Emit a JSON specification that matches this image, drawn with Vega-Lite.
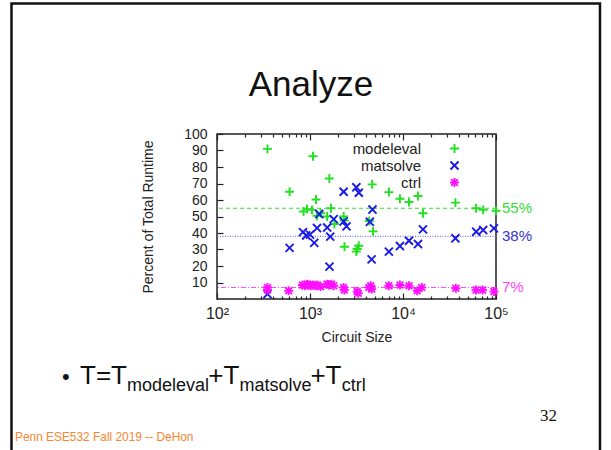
{
  "$schema": "https://vega.github.io/schema/vega-lite/v6.json",
  "width": 279,
  "height": 165,
  "autosize": {"type": "none"},
  "padding": {"left": 217, "top": 134, "right": 115, "bottom": 151},
  "background": "white",
  "config": {
    "view": {"stroke": "#222", "strokeWidth": 1.5},
    "font": "Liberation Sans",
    "axis": {"labelFont": "Liberation Sans", "titleFont": "Liberation Sans", "labelColor": "#222", "titleColor": "#222", "titleFontWeight": "normal", "grid": false, "domain": false, "tickColor": "#222", "tickWidth": 1.2},
    "legend": {"labelFont": "Liberation Sans"}
  },
  "resolve": {"axis": {"x": "independent", "y": "independent"}},
  "layer": [
    {
      "data": {"values": [{}]},
      "mark": {"type": "rect", "fill": null, "stroke": "#111", "strokeWidth": 2.5},
      "encoding": {
        "x": {"datum": 0.6169, "type": "quantitative", "scale": {"type": "log", "domain": [100, 100000], "nice": false},
          "axis": {"orient": "top", "labels": false, "title": null, "domain": false, "grid": false,
            "values": [100,200,300,400,500,600,700,800,900,1000,2000,3000,4000,5000,6000,7000,8000,9000,10000,20000,30000,40000,50000,60000,70000,80000,90000,100000],
            "tickSize": {"condition": {"test": "indexof([100,1000,10000,100000], datum.value) >= 0", "value": -6}, "value": -3}}},
        "x2": {"datum": 1312000},
        "y": {"datum": 179.1, "type": "quantitative", "axis": null},
        "y2": {"datum": -103.6}
      }
    },
    {
      "data": {"values": [{}]},
      "mark": {"type": "rule", "stroke": "#33dd33", "strokeDash": [4, 3], "strokeWidth": 1},
      "encoding": {"y": {"datum": 55, "type": "quantitative", "axis": null}}
    },
    {
      "data": {"values": [{}]},
      "mark": {"type": "rule", "stroke": "#5555ee", "strokeDash": [1, 1.5], "strokeWidth": 1},
      "encoding": {"y": {"datum": 38, "type": "quantitative", "axis": null}}
    },
    {
      "data": {"values": [{}]},
      "mark": {"type": "rule", "stroke": "#ff44ff", "strokeDash": [5, 2, 1, 2], "strokeWidth": 1},
      "encoding": {"y": {"datum": 7, "type": "quantitative", "axis": null}}
    },
    {
      "data": {"values": [
        {"size": 349, "pct": 91, "series": "modeleval"},
        {"size": 603, "pct": 65, "series": "modeleval"},
        {"size": 852, "pct": 53, "series": "modeleval"},
        {"size": 929, "pct": 54.5, "series": "modeleval"},
        {"size": 1050, "pct": 54, "series": "modeleval"},
        {"size": 1077, "pct": 86.5, "series": "modeleval"},
        {"size": 1161, "pct": 60.3, "series": "modeleval"},
        {"size": 1190, "pct": 50.5, "series": "modeleval"},
        {"size": 1300, "pct": 52, "series": "modeleval"},
        {"size": 1530, "pct": 50, "series": "modeleval"},
        {"size": 1614, "pct": 73, "series": "modeleval"},
        {"size": 1680, "pct": 55, "series": "modeleval"},
        {"size": 1830, "pct": 45.5, "series": "modeleval"},
        {"size": 2300, "pct": 50, "series": "modeleval"},
        {"size": 2340, "pct": 47.5, "series": "modeleval"},
        {"size": 2350, "pct": 31.7, "series": "modeleval"},
        {"size": 3150, "pct": 28.7, "series": "modeleval"},
        {"size": 3210, "pct": 30.3, "series": "modeleval"},
        {"size": 3340, "pct": 32.3, "series": "modeleval"},
        {"size": 4340, "pct": 47.3, "series": "modeleval"},
        {"size": 4665, "pct": 69.5, "series": "modeleval"},
        {"size": 4770, "pct": 41, "series": "modeleval"},
        {"size": 7050, "pct": 64.8, "series": "modeleval"},
        {"size": 9270, "pct": 60.8, "series": "modeleval"},
        {"size": 11600, "pct": 58.8, "series": "modeleval"},
        {"size": 14500, "pct": 62.4, "series": "modeleval"},
        {"size": 16400, "pct": 52, "series": "modeleval"},
        {"size": 36600, "pct": 58.4, "series": "modeleval"},
        {"size": 61200, "pct": 55, "series": "modeleval"},
        {"size": 72800, "pct": 54, "series": "modeleval"},
        {"size": 100000, "pct": 53.5, "series": "modeleval"},
        {"size": 349, "pct": 3, "series": "matsolve"},
        {"size": 603, "pct": 31, "series": "matsolve"},
        {"size": 840, "pct": 40.5, "series": "matsolve"},
        {"size": 910, "pct": 38.5, "series": "matsolve"},
        {"size": 1000, "pct": 39, "series": "matsolve"},
        {"size": 1110, "pct": 34, "series": "matsolve"},
        {"size": 1190, "pct": 43, "series": "matsolve"},
        {"size": 1260, "pct": 51.5, "series": "matsolve"},
        {"size": 1530, "pct": 43.3, "series": "matsolve"},
        {"size": 1620, "pct": 19.6, "series": "matsolve"},
        {"size": 1650, "pct": 37.8, "series": "matsolve"},
        {"size": 1800, "pct": 48.4, "series": "matsolve"},
        {"size": 2300, "pct": 65, "series": "matsolve"},
        {"size": 2300, "pct": 47, "series": "matsolve"},
        {"size": 2470, "pct": 44, "series": "matsolve"},
        {"size": 3150, "pct": 67.7, "series": "matsolve"},
        {"size": 3350, "pct": 64.4, "series": "matsolve"},
        {"size": 4400, "pct": 46.8, "series": "matsolve"},
        {"size": 4700, "pct": 54.2, "series": "matsolve"},
        {"size": 4600, "pct": 24, "series": "matsolve"},
        {"size": 7050, "pct": 28.7, "series": "matsolve"},
        {"size": 9270, "pct": 32.1, "series": "matsolve"},
        {"size": 11600, "pct": 35.3, "series": "matsolve"},
        {"size": 14500, "pct": 33.3, "series": "matsolve"},
        {"size": 16400, "pct": 42.2, "series": "matsolve"},
        {"size": 36600, "pct": 36.8, "series": "matsolve"},
        {"size": 61200, "pct": 40.8, "series": "matsolve"},
        {"size": 72800, "pct": 41.8, "series": "matsolve"},
        {"size": 95000, "pct": 42.8, "series": "matsolve"},
        {"size": 349, "pct": 7, "series": "ctrl"},
        {"size": 349, "pct": 5.5, "series": "ctrl"},
        {"size": 590, "pct": 5, "series": "ctrl"},
        {"size": 830, "pct": 8.5, "series": "ctrl"},
        {"size": 880, "pct": 8, "series": "ctrl"},
        {"size": 930, "pct": 9, "series": "ctrl"},
        {"size": 970, "pct": 8.5, "series": "ctrl"},
        {"size": 1020, "pct": 8, "series": "ctrl"},
        {"size": 1080, "pct": 8.5, "series": "ctrl"},
        {"size": 1150, "pct": 8, "series": "ctrl"},
        {"size": 1200, "pct": 8.5, "series": "ctrl"},
        {"size": 1300, "pct": 7.5, "series": "ctrl"},
        {"size": 1530, "pct": 9, "series": "ctrl"},
        {"size": 1600, "pct": 8.5, "series": "ctrl"},
        {"size": 1700, "pct": 9, "series": "ctrl"},
        {"size": 1800, "pct": 8, "series": "ctrl"},
        {"size": 2300, "pct": 7, "series": "ctrl"},
        {"size": 2340, "pct": 5.5, "series": "ctrl"},
        {"size": 3210, "pct": 4.5, "series": "ctrl"},
        {"size": 3300, "pct": 3.5, "series": "ctrl"},
        {"size": 4300, "pct": 7, "series": "ctrl"},
        {"size": 4500, "pct": 8, "series": "ctrl"},
        {"size": 4600, "pct": 6, "series": "ctrl"},
        {"size": 7050, "pct": 8, "series": "ctrl"},
        {"size": 9270, "pct": 8.5, "series": "ctrl"},
        {"size": 11600, "pct": 8, "series": "ctrl"},
        {"size": 14200, "pct": 5, "series": "ctrl"},
        {"size": 15900, "pct": 7, "series": "ctrl"},
        {"size": 37000, "pct": 6.5, "series": "ctrl"},
        {"size": 61000, "pct": 5.5, "series": "ctrl"},
        {"size": 72000, "pct": 5.5, "series": "ctrl"},
        {"size": 95000, "pct": 4.5, "series": "ctrl"}
      ]},
      "mark": {"type": "point", "filled": false, "strokeWidth": 1.9, "size": 80, "opacity": 1},
      "encoding": {
        "x": {"field": "size", "type": "quantitative", "scale": {"type": "log", "domain": [100, 100000], "nice": false},
          "axis": {"orient": "bottom", "title": "Circuit Size", "titleFontSize": 14, "titlePadding": 6,
            "values": [100,200,300,400,500,600,700,800,900,1000,2000,3000,4000,5000,6000,7000,8000,9000,10000,20000,30000,40000,50000,60000,70000,80000,90000,100000],
            "labelExpr": "datum.value == 100 ? '10²' : datum.value == 1000 ? '10³' : datum.value == 10000 ? '10⁴' : datum.value == 100000 ? '10⁵' : ''",
            "labelFontSize": 16, "labelFlush": false, "labelOverlap": false, "labelBound": false, "labelPadding": 12,
            "tickSize": {"condition": {"test": "indexof([100,1000,10000,100000], datum.value) >= 0", "value": -6}, "value": -3}}},
        "y": {"field": "pct", "type": "quantitative", "scale": {"domain": [0, 100], "nice": false, "zero": false},
          "axis": {"orient": "left", "title": "Percent of Total Runtime", "titleFontSize": 14, "titlePadding": 28,
            "values": [10,20,30,40,50,60,70,80,90,100], "labelFontSize": 14, "labelPadding": 16, "tickSize": -6}},
        "color": {"field": "series", "type": "nominal",
          "scale": {"domain": ["modeleval", "matsolve", "ctrl"], "range": ["#22e022", "#1a1ae6", "#ff11ff"]},
          "legend": {"orient": "none", "legendX": 230, "legendY": 7, "title": null, "labelFontSize": 15, "labelColor": "#222",
            "labelAlign": "right", "labelOffset": -41, "rowPadding": 0, "symbolSize": 80, "symbolStrokeWidth": 1.9}},
        "shape": {"field": "series", "type": "nominal",
          "scale": {"domain": ["modeleval", "matsolve", "ctrl"], "range": ["M-1,0L1,0M0,-1L0,1", "M-0.9,-0.9L0.9,0.9M-0.9,0.9L0.9,-0.9", "M-1,0L1,0M0,-1L0,1M-0.75,-0.75L0.75,0.75M-0.75,0.75L0.75,-0.75"]}}
      }
    },
    {
      "data": {"values": [{}]},
      "mark": {"type": "text", "text": "55%", "color": "#33dd33", "fontSize": 15, "align": "left", "baseline": "middle", "dx": 6},
      "encoding": {"x": {"datum": 100000, "type": "quantitative", "axis": null}, "y": {"datum": 55, "type": "quantitative", "axis": null}}
    },
    {
      "data": {"values": [{}]},
      "mark": {"type": "text", "text": "38%", "color": "#3333dd", "fontSize": 15, "align": "left", "baseline": "middle", "dx": 6},
      "encoding": {"x": {"datum": 100000, "type": "quantitative", "axis": null}, "y": {"datum": 38, "type": "quantitative", "axis": null}}
    },
    {
      "data": {"values": [{}]},
      "mark": {"type": "text", "text": "7%", "color": "#ff44ff", "fontSize": 15, "align": "left", "baseline": "middle", "dx": 6},
      "encoding": {"x": {"datum": 100000, "type": "quantitative", "axis": null}, "y": {"datum": 7, "type": "quantitative", "axis": null}}
    },
    {
      "data": {"values": [{}]},
      "mark": {"type": "text", "text": "Analyze", "color": "#111", "fontSize": 35, "align": "center", "baseline": "alphabetic"},
      "encoding": {"x": {"datum": 1025, "type": "quantitative", "axis": null}, "y": {"datum": 123, "type": "quantitative", "axis": null}}
    },
    {
      "data": {"values": [{}]},
      "mark": {"type": "text", "text": "•", "color": "#111", "fontSize": 22, "align": "left", "baseline": "alphabetic"},
      "encoding": {"x": {"datum": 2.154, "type": "quantitative", "axis": null}, "y": {"datum": -51.5, "type": "quantitative", "axis": null}}
    },
    {
      "data": {"values": [{}]},
      "mark": {"type": "text", "text": "T=T", "color": "#111", "fontSize": 26, "align": "left", "baseline": "alphabetic"},
      "encoding": {"x": {"datum": 3.365, "type": "quantitative", "axis": null}, "y": {"datum": -51.5, "type": "quantitative", "axis": null}}
    },
    {
      "data": {"values": [{}]},
      "mark": {"type": "text", "text": "modeleval", "color": "#111", "fontSize": 18, "align": "left", "baseline": "alphabetic"},
      "encoding": {"x": {"datum": 10.77, "type": "quantitative", "axis": null}, "y": {"datum": -55.8, "type": "quantitative", "axis": null}}
    },
    {
      "data": {"values": [{}]},
      "mark": {"type": "text", "text": "+T", "color": "#111", "fontSize": 26, "align": "left", "baseline": "alphabetic"},
      "encoding": {"x": {"datum": 80.5, "type": "quantitative", "axis": null}, "y": {"datum": -51.5, "type": "quantitative", "axis": null}}
    },
    {
      "data": {"values": [{}]},
      "mark": {"type": "text", "text": "matsolve", "color": "#111", "fontSize": 18, "align": "left", "baseline": "alphabetic"},
      "encoding": {"x": {"datum": 175, "type": "quantitative", "axis": null}, "y": {"datum": -55.8, "type": "quantitative", "axis": null}}
    },
    {
      "data": {"values": [{}]},
      "mark": {"type": "text", "text": "+T", "color": "#111", "fontSize": 26, "align": "left", "baseline": "alphabetic"},
      "encoding": {"x": {"datum": 1010, "type": "quantitative", "axis": null}, "y": {"datum": -51.5, "type": "quantitative", "axis": null}}
    },
    {
      "data": {"values": [{}]},
      "mark": {"type": "text", "text": "ctrl", "color": "#111", "fontSize": 18, "align": "left", "baseline": "alphabetic"},
      "encoding": {"x": {"datum": 2200, "type": "quantitative", "axis": null}, "y": {"datum": -55.8, "type": "quantitative", "axis": null}}
    },
    {
      "data": {"values": [{}]},
      "mark": {"type": "text", "text": "32", "color": "#111", "font": "Liberation Serif", "fontSize": 17, "align": "left", "baseline": "alphabetic"},
      "encoding": {"x": {"datum": 297200, "type": "quantitative", "axis": null}, "y": {"datum": -73.9, "type": "quantitative", "axis": null}}
    },
    {
      "data": {"values": [{}]},
      "mark": {"type": "text", "text": "Penn ESE532 Fall 2019 -- DeHon", "color": "#f7862e", "fontSize": 11.9, "align": "left", "baseline": "alphabetic"},
      "encoding": {"x": {"datum": 0.673, "type": "quantitative", "axis": null}, "y": {"datum": -86.3, "type": "quantitative", "axis": null}}
    }
  ]
}
